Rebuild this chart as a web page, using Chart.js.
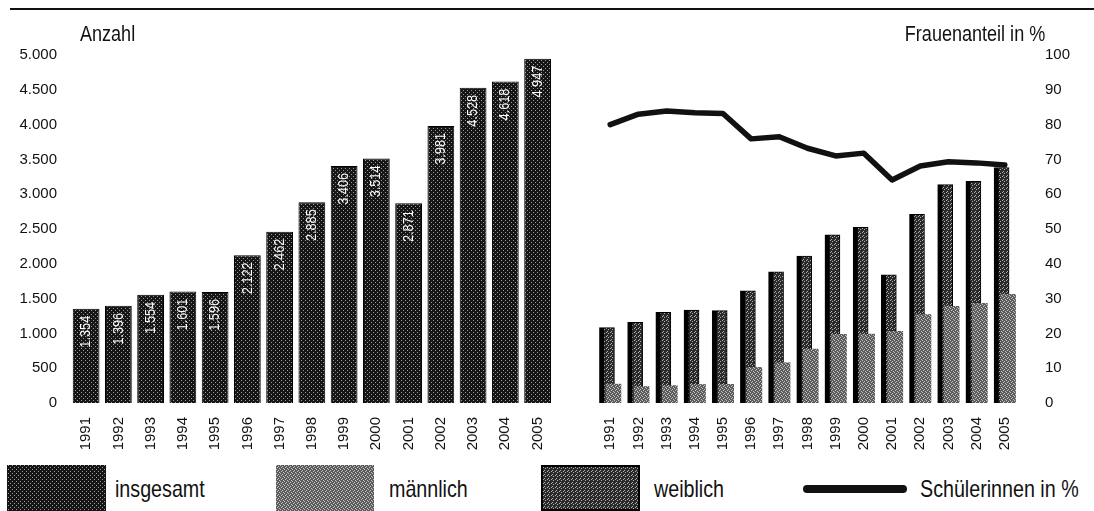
<!DOCTYPE html>
<html lang="de">
<head>
<meta charset="utf-8">
<title>Schülerzahlen 1991–2005</title>
<script src="https://cdn.jsdelivr.net/npm/chart.js@4.4.1/dist/chart.umd.min.js"></script>
<style>
  html, body { margin: 0; padding: 0; background: #fff; }
  body { width: 1094px; height: 511px; position: relative; overflow: hidden;
         font-family: "Liberation Sans", Arial, sans-serif; color: #111; }
  .rule { position: absolute; left: 10px; right: 0; top: 8px; height: 2px; background: #111; }
  .wrap { position: absolute; top: 0; height: 455px; }
  #left { left: 0; width: 570px; }
  #right { left: 570px; width: 524px; }
  /* narrow look of the printed type */
  .axis-title, .legend-text { position: absolute; white-space: nowrap; transform: scaleX(0.82); }
  .axis-title { top: 22px; font-size: 22px; line-height: 24px; }
  .legend-box { position: absolute; top: 465px; height: 46px; }
  .legend-text { top: 475px; font-size: 24px; line-height: 28px; transform-origin: left center; }
  .legend-line { position: absolute; left: 803px; top: 485px; width: 104px; height: 8px; border-radius: 4px; background: #111; }
</style>
</head>
<body>
<div class="rule"></div>
<div class="wrap" id="left"><canvas id="totalChart"></canvas></div>
<div class="wrap" id="right"><canvas id="genderChart"></canvas></div>
<div class="axis-title" style="left:80px;transform-origin:left center">Anzahl</div>
<div class="axis-title" style="right:49px;transform-origin:right center">Frauenanteil in %</div>

<div class="legend-box" id="lgTotal" style="left:7px;width:99px"></div>
<div class="legend-text" style="left:115px">insgesamt</div>
<div class="legend-box" id="lgMale" style="left:276px;width:98px"></div>
<div class="legend-text" style="left:389px">männlich</div>
<div class="legend-box" id="lgFemale" style="left:541px;width:99px;box-sizing:border-box;border:2px solid #000"></div>
<div class="legend-text" style="left:654px">weiblich</div>
<div class="legend-line"></div>
<div class="legend-text" style="left:920px">Schülerinnen in %</div>

<script>
const years = ['1991', '1992', '1993', '1994', '1995', '1996', '1997', '1998', '1999', '2000', '2001', '2002', '2003', '2004', '2005'];
const insgesamt = [1354, 1396, 1554, 1601, 1596, 2122, 2462, 2885, 3406, 3514, 2871, 3981, 4528, 4618, 4947];
const weiblich = [1083, 1159, 1304, 1335, 1328, 1610, 1883, 2112, 2418, 2523, 1840, 2711, 3138, 3186, 3384];
const maennlich = [271, 237, 250, 266, 268, 512, 579, 773, 988, 991, 1031, 1270, 1390, 1432, 1563];
const frauenanteil = [80.0, 83.0, 83.9, 83.4, 83.2, 75.9, 76.5, 73.2, 71.0, 71.8, 64.1, 68.1, 69.3, 69.0, 68.4];

const FONT = '"Liberation Sans", Arial, sans-serif';
const TEXT = '#111';
const PAIR_SHIFT = 0.115; // weiblich/männlich sit slightly left/right of the year

// german thousands separator: 4947 -> 4.947
function fmt(v) {
  return String(v).replace(/\B(?=(\d{3})+(?!\d))/g, '.');
}

// small halftone tiles, like the printed raster
function makeTile(base, light, spots) {
  const c = document.createElement('canvas');
  c.width = 4; c.height = 4;
  const g = c.getContext('2d');
  g.fillStyle = base;
  g.fillRect(0, 0, 4, 4);
  g.fillStyle = light;
  spots.forEach(([x, y]) => g.fillRect(x, y, 1, 1));
  return c;
}
const tileTotal = makeTile('#161616', '#9a9a9a', [[1, 0], [3, 2]]);
const tileFemale = makeTile('#2a2a2a', '#b0b0b0', [[0, 0], [2, 1], [1, 3]]);
const tileMale = makeTile('#5c5c5c', '#c4c4c4', [[0, 0], [2, 1], [1, 2], [3, 3]]);

function pattern(tile) {
  return document.createElement('canvas').getContext('2d').createPattern(tile, 'repeat');
}

// legend swatches reuse the same raster
document.getElementById('lgTotal').style.background = `url(${tileTotal.toDataURL()})`;
document.getElementById('lgMale').style.background = `url(${tileMale.toDataURL()})`;
document.getElementById('lgFemale').style.background = `url(${tileFemale.toDataURL()})`;

Chart.defaults.font.family = FONT;
Chart.defaults.color = TEXT;
Chart.defaults.animation = false;

// value labels written upright inside the top of each bar
const barValueLabels = {
  id: 'barValueLabels',
  afterDatasetsDraw(chart) {
    const { ctx } = chart;
    const meta = chart.getDatasetMeta(0);
    ctx.save();
    ctx.fillStyle = '#fff';
    ctx.font = `15px ${FONT}`;
    ctx.textAlign = 'right';
    ctx.textBaseline = 'middle';
    meta.data.forEach((bar, i) => {
      ctx.save();
      ctx.translate(bar.x, bar.y + 7);
      ctx.rotate(-Math.PI / 2);
      ctx.scale(0.85, 1);
      ctx.fillText(fmt(insgesamt[i]), 0, 0);
      ctx.restore();
    });
    ctx.restore();
  }
};

const tickFont = { family: FONT, size: 15 };

new Chart(document.getElementById('totalChart'), {
  type: 'bar',
  data: {
    labels: years,
    datasets: [{
      label: 'insgesamt',
      data: insgesamt,
      backgroundColor: pattern(tileTotal),
      borderColor: '#000',
      borderWidth: 1,
      categoryPercentage: 1,
      barPercentage: 0.83
    }]
  },
  options: {
    responsive: true,
    maintainAspectRatio: false,
    layout: { padding: { top: 55, right: 12, left: 0, bottom: 0 } },
    plugins: { legend: { display: false }, tooltip: { enabled: false } },
    scales: {
      x: {
        grid: { display: false, drawTicks: false },
        border: { display: false },
        ticks: { font: tickFont, color: TEXT, minRotation: 90, maxRotation: 90, padding: 14, autoSkip: false },
        afterFit: s => { s.height = 52; }
      },
      y: {
        min: 0,
        max: 5000,
        grid: { display: false, drawTicks: false },
        border: { display: false },
        ticks: { stepSize: 500, font: tickFont, color: TEXT, padding: 13, callback: v => fmt(v) },
        afterFit: s => { s.width = 70; }
      }
    }
  },
  plugins: [barValueLabels]
});

const yearNums = years.map(Number);

new Chart(document.getElementById('genderChart'), {
  type: 'bar',
  data: {
    datasets: [
      {
        type: 'line',
        label: 'Schülerinnen in %',
        data: frauenanteil.map((v, i) => ({ x: yearNums[i], y: v })),
        yAxisID: 'yPct',
        borderColor: '#111',
        borderWidth: 5.5,
        borderJoinStyle: 'round',
        borderCapStyle: 'round',
        pointRadius: 0,
        tension: 0,
        order: 0
      },
      {
        label: 'männlich',
        data: maennlich.map((v, i) => ({ x: yearNums[i] + PAIR_SHIFT, y: v })),
        yAxisID: 'yCount',
        backgroundColor: pattern(tileMale),
        borderWidth: 0,
        barThickness: 15,
        grouped: false,
        order: 1
      },
      {
        label: 'weiblich',
        data: weiblich.map((v, i) => ({ x: yearNums[i] - PAIR_SHIFT, y: v })),
        yAxisID: 'yCount',
        backgroundColor: pattern(tileFemale),
        borderColor: '#000',
        borderWidth: { left: 5, top: 1, right: 1, bottom: 0 },
        borderSkipped: false,
        barThickness: 15,
        grouped: false,
        order: 2
      }
    ]
  },
  options: {
    responsive: true,
    maintainAspectRatio: false,
    layout: { padding: { top: 55, right: 0, left: 11, bottom: 0 } },
    plugins: { legend: { display: false }, tooltip: { enabled: false } },
    scales: {
      x: {
        type: 'linear',
        min: 1990.5,
        max: 2005.5,
        grid: { display: false, drawTicks: false },
        border: { display: false },
        afterBuildTicks: s => { s.ticks = yearNums.map(v => ({ value: v })); },
        ticks: { font: tickFont, color: TEXT, minRotation: 90, maxRotation: 90, padding: 14, autoSkip: false, callback: v => String(v) },
        afterFit: s => { s.height = 52; }
      },
      yCount: {
        position: 'left',
        display: false,
        min: 0,
        max: 5000
      },
      yPct: {
        position: 'right',
        min: 0,
        max: 100,
        grid: { display: false, drawTicks: false },
        border: { display: false },
        ticks: { stepSize: 10, font: tickFont, color: TEXT, padding: 11 },
        afterFit: s => { s.width = 60; }
      }
    }
  }
});
</script>
</body>
</html>
